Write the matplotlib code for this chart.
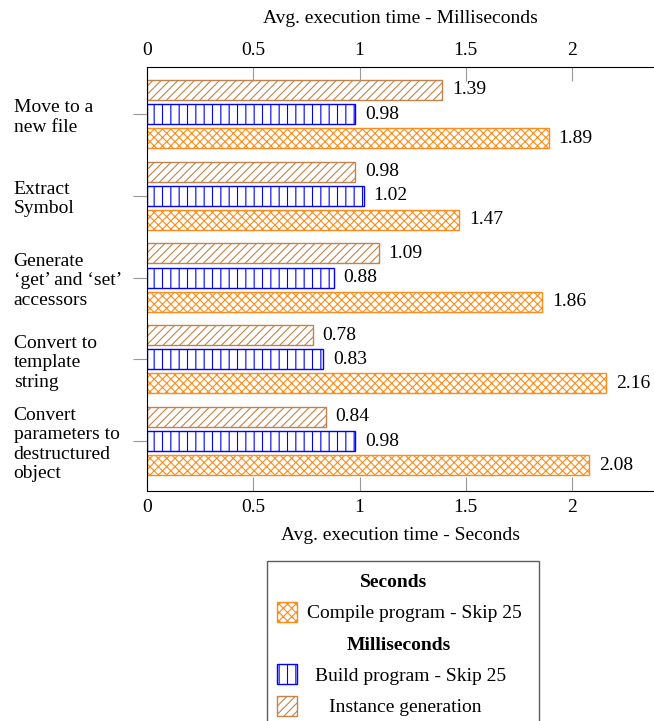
import matplotlib.pyplot as plt
from matplotlib.patches import Patch
import numpy as np

plt.rcParams['font.family'] = ['Liberation Serif', 'DejaVu Serif']
plt.rcParams['hatch.linewidth'] = 0.8

categories = ['Move to a\nnew file', 'Extract\nSymbol', 'Generate\n\u2018get\u2019 and \u2018set\u2019\naccessors',
              'Convert to\ntemplate\nstring', 'Convert\nparameters to\ndestructured\nobject']
instance_ms = [1.39, 0.98, 1.09, 0.78, 0.84]
build_ms = [0.98, 1.02, 0.88, 0.83, 0.98]
compile_s = [1.89, 1.47, 1.86, 2.16, 2.08]
ticks = [0, 0.5, 1, 1.5, 2]

c_inst = '#c4824a'
c_build = '#0000ff'
c_comp = '#ff8c1a'
fs = 14

fig = plt.figure(figsize=(6.54, 7.21), dpi=100)
ax = fig.add_axes([147 / 654, 1 - 491 / 721, 1 - 147 / 654, (491 - 67) / 721])

y = np.arange(len(categories))
h = 0.245
off = 0.295

b1 = ax.barh(y - off, instance_ms, h, color='white', edgecolor=c_inst, hatch='////', linewidth=1)
b2 = ax.barh(y, build_ms, h, color='white', edgecolor=c_build, hatch='||', linewidth=1)
b3 = ax.barh(y + off, compile_s, h, color='white', edgecolor=c_comp, hatch='xxxx', linewidth=1)
for b in (b1, b2, b3):
    ax.bar_label(b, fmt='%.2f', padding=7, fontsize=fs)

ax.set_xlim(0, (654 - 147) / 212.5)
ax.set_ylim(4.61, -0.575)
ax.set_yticks(y)
ax.set_yticklabels(categories, ha='left', fontsize=fs, linespacing=1.2)
ax.tick_params(axis='y', length=10, color='#999999', pad=86)
ax.set_xticks(ticks)
ax.set_xticklabels(['0', '0.5', '1', '1.5', '2'])
ax.tick_params(axis='x', direction='in', length=10, color='#999999', labelsize=fs,
               top=True, labeltop=True, pad=6)
ax.spines['right'].set_visible(False)
ax.set_xlabel('Avg. execution time - Seconds', fontsize=fs, labelpad=8)

sec = ax.secondary_xaxis('top')
sec.set_xticks([])
sec.spines['top'].set_visible(False)
sec.set_xlabel('Avg. execution time - Milliseconds', fontsize=fs, labelpad=32)

blank = Patch(visible=False)
handles = [blank,
           Patch(facecolor='white', edgecolor=c_comp, hatch='xxxx'),
           blank,
           Patch(facecolor='white', edgecolor=c_build, hatch='||'),
           Patch(facecolor='white', edgecolor=c_inst, hatch='////')]
labels = ['Seconds', 'Compile program - Skip 25', 'Milliseconds',
          'Build program - Skip 25', 'Instance generation']
leg = fig.legend(handles, labels, loc='upper center', bbox_to_anchor=(403 / 654, 1 - 561 / 721),
                 fontsize=fs, frameon=True, fancybox=False, edgecolor='#333333',
                 handlelength=1.0, handleheight=1.2, handletextpad=0.9, borderpad=0.5,
                 labelspacing=0.55, borderaxespad=0)
leg.get_frame().set_linewidth(1)
for i, t in enumerate(leg.get_texts()):
    if i in (0, 2):
        t.set_fontweight('bold')

fig.canvas.draw()
# centre every legend row a little right of the box centre
box = leg.get_window_extent()
cx = box.x0 + box.width / 2 + 8
for t in leg.get_texts():
    tb = t.get_window_extent()
    t.set_x(t.get_position()[0] + (cx - (tb.x0 + tb.width / 2)) * 72 / 100)

fig.savefig('out.png', dpi=100)
